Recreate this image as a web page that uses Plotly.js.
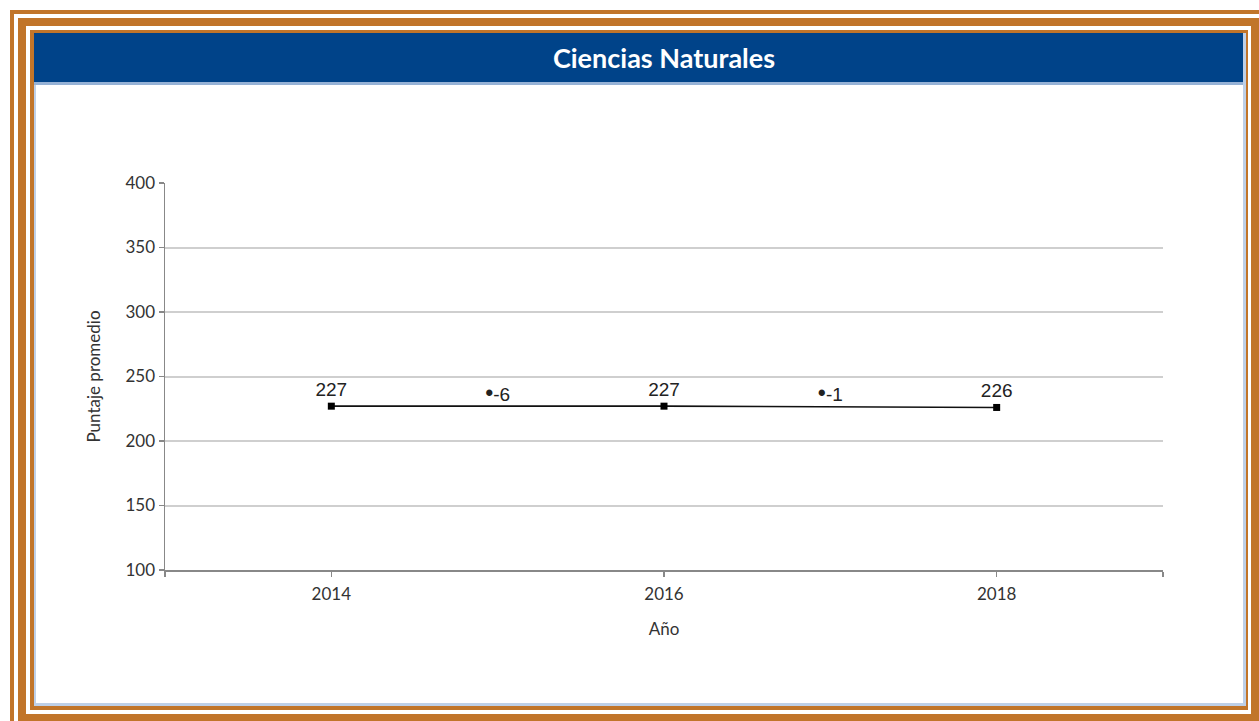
<!DOCTYPE html>
<html>
<head>
<meta charset="utf-8">
<script src="https://cdn.plot.ly/plotly-3.0.1.min.js"></script>
<style>
html,body{margin:0;padding:0;background:#fff;}
#chart{width:1259px;height:721px;}
</style>
</head>
<body>
<div id="chart"></div>
<script>
// ---- data ----
const years = [2014, 2016, 2018];
const scores = [227, 227, 226];
const scoreLabels = ['227', '227', '226'];
const diffYears = [2015, 2017];
const diffLevel = [235, 234.5];
const diffValues = ['-6', '-1'];
const yTicks = [100, 150, 200, 250, 300, 350, 400];
const xTicks = [2013, 2014, 2016, 2018, 2019];
const xTickText = ['', '2014', '2016', '2018', ''];

// ---- geometry helpers (decoration only) ----
const W = 1259, H = 721;
const M = {l: 165, r: 96, t: 183, b: 151};
const PW = W - M.l - M.r, PH = H - M.t - M.b;
const px = x => (x - M.l) / PW;
const py = y => (H - M.b - y) / PH;
function box(x0, y0, x1, y1, color) {
  return {type: 'rect', xref: 'paper', yref: 'paper', layer: 'below',
    x0: px(x0), x1: px(x1), y0: py(y1), y1: py(y0),
    line: {width: 0}, fillcolor: color};
}
const ORANGE = 'rgb(193,117,42)';
const BLUE = 'rgb(0,67,137)';
const shapes = [
  box(10, 10, 1259, 14, ORANGE),
  box(10, 10, 14, 721, ORANGE),
  box(18, 18, 1259, 26, ORANGE),
  box(18, 18, 26, 721, ORANGE),
  box(1251, 18, 1259, 721, ORANGE),
  box(18, 714, 1259, 721, ORANGE),
  box(30, 30, 1248, 710, ORANGE),
  box(34, 33, 1246, 706, 'rgb(190,208,232)'),
  box(36, 35, 1243, 703, '#ffffff'),
  box(34, 33, 1243, 82, BLUE),
  box(34, 82, 1243, 85, 'rgb(150,178,214)')
];

const labelFont = {family: 'Lato, "Open Sans", sans-serif', size: 17, color: '#333'};
const valueFont = {family: '"Liberation Sans", Arial, sans-serif', size: 19, color: '#222'};

const traces = [
  {
    x: years, y: scores, type: 'scatter', mode: 'lines+markers+text',
    text: scoreLabels, textposition: 'top center',
    textfont: valueFont,
    line: {color: '#111', width: 1.6},
    marker: {symbol: 'square', size: 7, color: '#000'},
    hoverinfo: 'skip', cliponaxis: false
  },
  {
    x: diffYears, y: diffLevel, type: 'scatter', mode: 'text',
    text: diffValues.map(v => '<span style="font-size:23px">•</span>' + v),
    textposition: 'middle center',
    textfont: valueFont,
    hoverinfo: 'skip'
  }
];

const layout = {
  width: W, height: H,
  margin: M,
  paper_bgcolor: '#ffffff', plot_bgcolor: 'rgba(0,0,0,0)',
  showlegend: false,
  title: {
    text: '<b>Ciencias Naturales</b>',
    font: {family: 'Lato, "Open Sans", sans-serif', size: 27, color: '#ffffff'},
    x: 0.5, xref: 'paper', xanchor: 'center',
    y: 1 - 59 / H, yref: 'container', yanchor: 'middle'
  },
  xaxis: {
    range: [2013, 2019], tickmode: 'array', tickvals: xTicks,
    ticktext: xTickText,
    ticks: 'outside', ticklen: 5, tickcolor: '#888', tickwidth: 1.5,
    ticklabelstandoff: 3,
    showline: true, linecolor: '#888', linewidth: 1.5,
    showgrid: false, zeroline: false,
    tickfont: labelFont,
    title: {text: 'Año', font: labelFont, standoff: 20}
  },
  yaxis: {
    range: [100, 400], tickmode: 'array', tickvals: yTicks,
    ticks: 'outside', ticklen: 5, tickcolor: '#888', tickwidth: 1.5,
    showline: true, linecolor: '#888', linewidth: 1.5,
    showgrid: true, gridcolor: '#cfcfcf', gridwidth: 2,
    zeroline: false,
    tickfont: labelFont,
    title: {text: 'Puntaje promedio', font: labelFont, standoff: 20}
  },
  shapes: shapes
};

Plotly.newPlot('chart', traces, layout, {displayModeBar: false, staticPlot: true});
</script>
</body>
</html>
